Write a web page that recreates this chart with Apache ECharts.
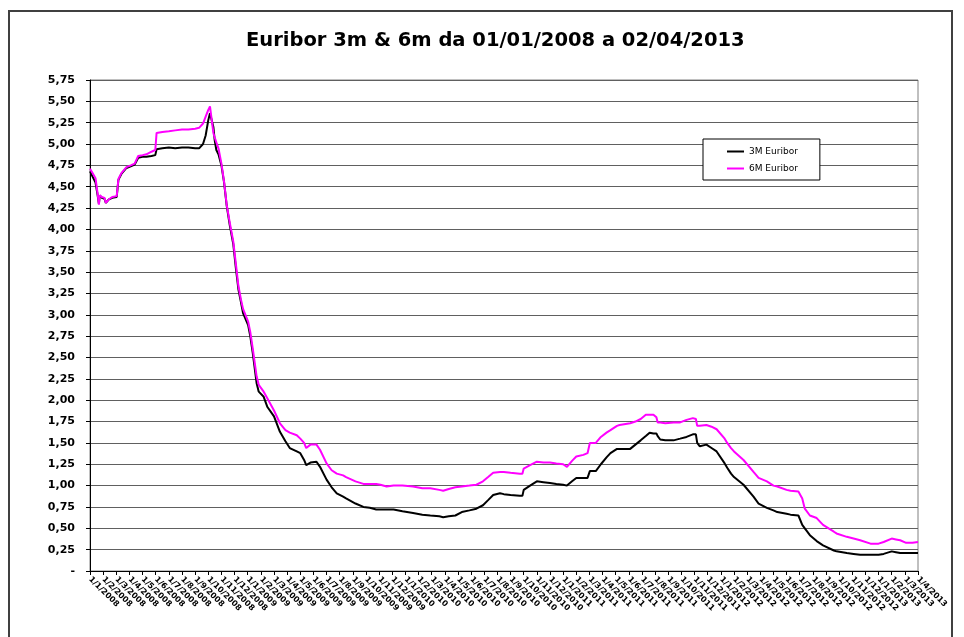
<!DOCTYPE html>
<html>
<head>
<meta charset="utf-8">
<script src="https://cdn.jsdelivr.net/npm/echarts@6/dist/echarts.min.js"></script>
<style>
html,body{margin:0;padding:0;background:#fff;}
#chart{width:964px;height:637px;}
</style>
</head>
<body>
<div id="chart"></div>
<script>
const chartTitle = "Euribor 3m & 6m da 01/01/2008 a 02/04/2013";
const seriesNames = ["3M Euribor", "6M Euribor"];

const dates = [
"2008-01-01","2008-01-07","2008-01-14","2008-01-19","2008-01-22","2008-01-24","2008-01-29","2008-02-04","2008-02-07","2008-02-13",
"2008-02-21","2008-03-02","2008-03-06","2008-03-13","2008-03-25","2008-04-04","2008-04-13","2008-04-21","2008-05-01","2008-05-10",
"2008-05-22","2008-05-31","2008-06-03","2008-06-16","2008-07-01","2008-07-16","2008-08-01","2008-08-16","2008-09-01","2008-09-10",
"2008-09-19","2008-09-25","2008-10-01","2008-10-05","2008-10-09","2008-10-13","2008-10-16","2008-10-20","2008-10-25","2008-11-01",
"2008-11-07","2008-11-13","2008-11-20","2008-11-28","2008-12-04","2008-12-10","2008-12-16","2008-12-21","2009-01-02","2009-01-07",
"2009-01-13","2009-01-22","2009-01-27","2009-02-07","2009-02-15","2009-03-01","2009-03-15","2009-03-28","2009-04-07","2009-04-23",
"2009-05-01","2009-05-10","2009-05-15","2009-05-25","2009-06-08","2009-06-16","2009-07-01","2009-07-13","2009-07-25","2009-08-09",
"2009-08-16","2009-09-07","2009-09-25","2009-10-10","2009-10-25","2009-11-04","2009-11-18","2009-12-04","2009-12-25","2010-01-19",
"2010-02-09","2010-02-26","2010-03-19","2010-03-28","2010-04-10","2010-04-25","2010-05-10","2010-05-28","2010-06-13","2010-06-28",
"2010-07-10","2010-07-22","2010-08-07","2010-08-16","2010-09-01","2010-09-22","2010-09-28","2010-10-01","2010-10-16","2010-11-01",
"2010-11-16","2010-12-01","2010-12-16","2011-01-01","2011-01-10","2011-01-22","2011-02-01","2011-02-16","2011-02-25","2011-03-02",
"2011-03-16","2011-03-28","2011-04-10","2011-04-19","2011-05-04","2011-05-10","2011-06-04","2011-06-16","2011-06-28","2011-07-10",
"2011-07-19","2011-07-28","2011-08-04","2011-08-07","2011-08-13","2011-08-25","2011-09-13","2011-09-28","2011-10-13","2011-10-28",
"2011-11-04","2011-11-07","2011-11-13","2011-11-28","2011-12-10","2011-12-22","2012-01-10","2012-01-16","2012-01-25","2012-02-01",
"2012-02-22","2012-02-25","2012-03-16","2012-03-28","2012-04-01","2012-04-16","2012-05-01","2012-05-10","2012-06-01","2012-06-10",
"2012-06-28","2012-07-01","2012-07-07","2012-07-13","2012-07-25","2012-08-10","2012-08-25","2012-09-19","2012-09-25","2012-10-19",
"2012-11-04","2012-11-19","2012-12-13","2013-01-01","2013-01-13","2013-02-01","2013-02-10","2013-02-19","2013-03-04","2013-03-19",
"2013-04-01"
];

const euribor3m = [
4.68,4.62,4.55,4.40,4.30,4.40,4.37,4.36,4.31,4.35,
4.37,4.38,4.58,4.65,4.72,4.74,4.76,4.84,4.85,4.85,
4.86,4.87,4.94,4.95,4.96,4.95,4.96,4.96,4.95,4.95,
5.00,5.10,5.28,5.36,5.38,5.20,5.05,4.93,4.88,4.75,
4.55,4.28,4.05,3.83,3.55,3.30,3.15,3.02,2.88,2.75,
2.55,2.20,2.10,2.04,1.92,1.81,1.63,1.52,1.44,1.40,
1.38,1.30,1.24,1.27,1.28,1.22,1.07,0.98,0.91,0.87,
0.85,0.79,0.75,0.74,0.72,0.72,0.72,0.72,0.70,0.68,
0.66,0.65,0.64,0.63,0.64,0.65,0.69,0.71,0.73,0.77,
0.83,0.89,0.91,0.90,0.89,0.88,0.88,0.95,1.00,1.05,
1.04,1.03,1.02,1.01,1.00,1.05,1.09,1.09,1.09,1.17,
1.17,1.25,1.33,1.38,1.43,1.43,1.43,1.48,1.53,1.58,
1.62,1.61,1.61,1.58,1.54,1.53,1.53,1.55,1.57,1.60,
1.60,1.50,1.46,1.48,1.44,1.40,1.26,1.21,1.14,1.10,
1.01,0.99,0.87,0.79,0.78,0.74,0.71,0.69,0.67,0.66,
0.65,0.65,0.54,0.50,0.42,0.35,0.30,0.24,0.23,0.21,
0.20,0.19,0.19,0.19,0.20,0.23,0.22,0.21,0.21,0.21,
0.21
];

const euribor6m = [
4.71,4.66,4.60,4.42,4.29,4.40,4.38,4.37,4.31,4.35,
4.38,4.39,4.59,4.66,4.73,4.75,4.77,4.86,4.87,4.88,
4.91,4.93,5.13,5.14,5.15,5.16,5.17,5.17,5.18,5.19,
5.24,5.32,5.40,5.44,5.46,5.13,5.08,5.02,4.95,4.77,
4.56,4.29,4.08,3.86,3.60,3.34,3.18,3.07,2.92,2.80,
2.60,2.28,2.18,2.10,2.02,1.88,1.73,1.65,1.62,1.59,
1.55,1.50,1.44,1.48,1.48,1.42,1.26,1.18,1.14,1.12,
1.10,1.05,1.02,1.02,1.02,1.01,0.99,1.00,1.00,0.99,
0.97,0.97,0.95,0.94,0.96,0.98,0.99,1.00,1.01,1.05,
1.10,1.15,1.16,1.16,1.15,1.14,1.14,1.20,1.24,1.28,
1.27,1.27,1.26,1.25,1.22,1.29,1.34,1.36,1.38,1.50,
1.50,1.57,1.62,1.65,1.70,1.71,1.73,1.75,1.78,1.83,
1.83,1.83,1.80,1.74,1.74,1.73,1.74,1.74,1.77,1.79,
1.78,1.70,1.70,1.71,1.69,1.66,1.55,1.50,1.44,1.40,
1.30,1.28,1.16,1.09,1.08,1.05,1.00,0.99,0.95,0.94,
0.93,0.93,0.85,0.73,0.65,0.62,0.54,0.46,0.44,0.40,
0.38,0.36,0.32,0.32,0.34,0.38,0.37,0.36,0.33,0.33,
0.34
];

const xTickLabels = [
"1/1/2008","1/2/2008","1/3/2008","1/4/2008","1/5/2008","1/6/2008","1/7/2008","1/8/2008","1/9/2008","1/10/2008","1/11/2008","1/12/2008",
"1/1/2009","1/2/2009","1/3/2009","1/4/2009","1/5/2009","1/6/2009","1/7/2009","1/8/2009","1/9/2009","1/10/2009","1/11/2009","1/12/2009",
"1/1/2010","1/2/2010","1/3/2010","1/4/2010","1/5/2010","1/6/2010","1/7/2010","1/8/2010","1/9/2010","1/10/2010","1/11/2010","1/12/2010",
"1/1/2011","1/2/2011","1/3/2011","1/4/2011","1/5/2011","1/6/2011","1/7/2011","1/8/2011","1/9/2011","1/10/2011","1/11/2011","1/12/2011",
"1/1/2012","1/2/2012","1/3/2012","1/4/2012","1/5/2012","1/6/2012","1/7/2012","1/8/2012","1/9/2012","1/10/2012","1/11/2012","1/12/2012",
"1/1/2013","1/2/2013","1/3/2013","1/4/2013"
];

// position of a date on the monthly axis (months since 1/1/2008)
function monthPos(s) {
  const p = s.split('-').map(Number);
  const dim = new Date(p[0], p[1], 0).getDate();
  return (p[0] - 2008) * 12 + (p[1] - 1) + (p[2] - 1) / dim;
}
const xs = dates.map(monthPos);
const data3m = xs.map((x, i) => [x, euribor3m[i]]);
const data6m = xs.map((x, i) => [x, euribor6m[i]]);

const FONT = 'DejaVu Sans';
const chart = echarts.init(document.getElementById('chart'), null, {renderer: 'canvas'});
chart.setOption({
  backgroundColor: '#ffffff',
  animation: false,
  title: {
    text: chartTitle,
    left: 241,
    top: 26,
    textStyle: {fontFamily: FONT, fontSize: 19.5, fontWeight: 'bold', color: '#000'}
  },
  legend: {
    orient: 'vertical',
    left: 703,
    top: 139,
    data: seriesNames.map(n => ({name: n, icon: 'rect'})),
    itemWidth: 17,
    itemHeight: 2,
    itemGap: 8,
    padding: [8, 22, 7, 24],
    borderColor: '#000',
    borderWidth: 1,
    backgroundColor: '#fff',
    textStyle: {fontFamily: FONT, fontSize: 9, color: '#000'}
  },
  graphic: [{
    type: 'rect',
    shape: {x: 9, y: 11, width: 943, height: 640},
    style: {fill: 'none', stroke: '#404040', lineWidth: 2},
    silent: true,
    z: 100
  }],
  grid: {
    left: 90, right: 46, top: 80, bottom: 66,
    show: true, borderColor: '#808080', borderWidth: 1, backgroundColor: '#fff'
  },
  xAxis: {
    type: 'value',
    min: 0, max: 63, interval: 1,
    axisLine: {show: true, onZero: false, lineStyle: {color: '#000', width: 1}},
    axisTick: {show: true, length: 4, lineStyle: {color: '#000'}},
    splitLine: {show: false},
    axisLabel: {
      rotate: -45,
      margin: 7,
      fontFamily: FONT, fontSize: 8, fontWeight: 'bold', color: '#000',
      showMinLabel: true, showMaxLabel: true,
      formatter: v => xTickLabels[Math.round(v)] || ''
    }
  },
  yAxis: {
    type: 'value',
    min: 0, max: 5.75, interval: 0.25,
    axisLine: {show: true, lineStyle: {color: '#000', width: 1}},
    axisTick: {show: true, length: 4, lineStyle: {color: '#000'}},
    splitLine: {show: true, lineStyle: {color: '#606060', width: 1}},
    axisLabel: {
      margin: 15,
      fontFamily: FONT, fontSize: 11, fontWeight: 'bold', color: '#000',
      formatter: v => v === 0 ? '-' : v.toFixed(2).replace('.', ',')
    }
  },
  series: [
    {name: seriesNames[0], type: 'line', data: data3m, showSymbol: false, symbol: 'none',
     clip: true, lineStyle: {color: '#000000', width: 2}, itemStyle: {color: '#000000'}},
    {name: seriesNames[1], type: 'line', data: data6m, showSymbol: false, symbol: 'none',
     clip: true, lineStyle: {color: '#FF00FF', width: 2}, itemStyle: {color: '#FF00FF'}}
  ]
});
</script>
</body>
</html>
